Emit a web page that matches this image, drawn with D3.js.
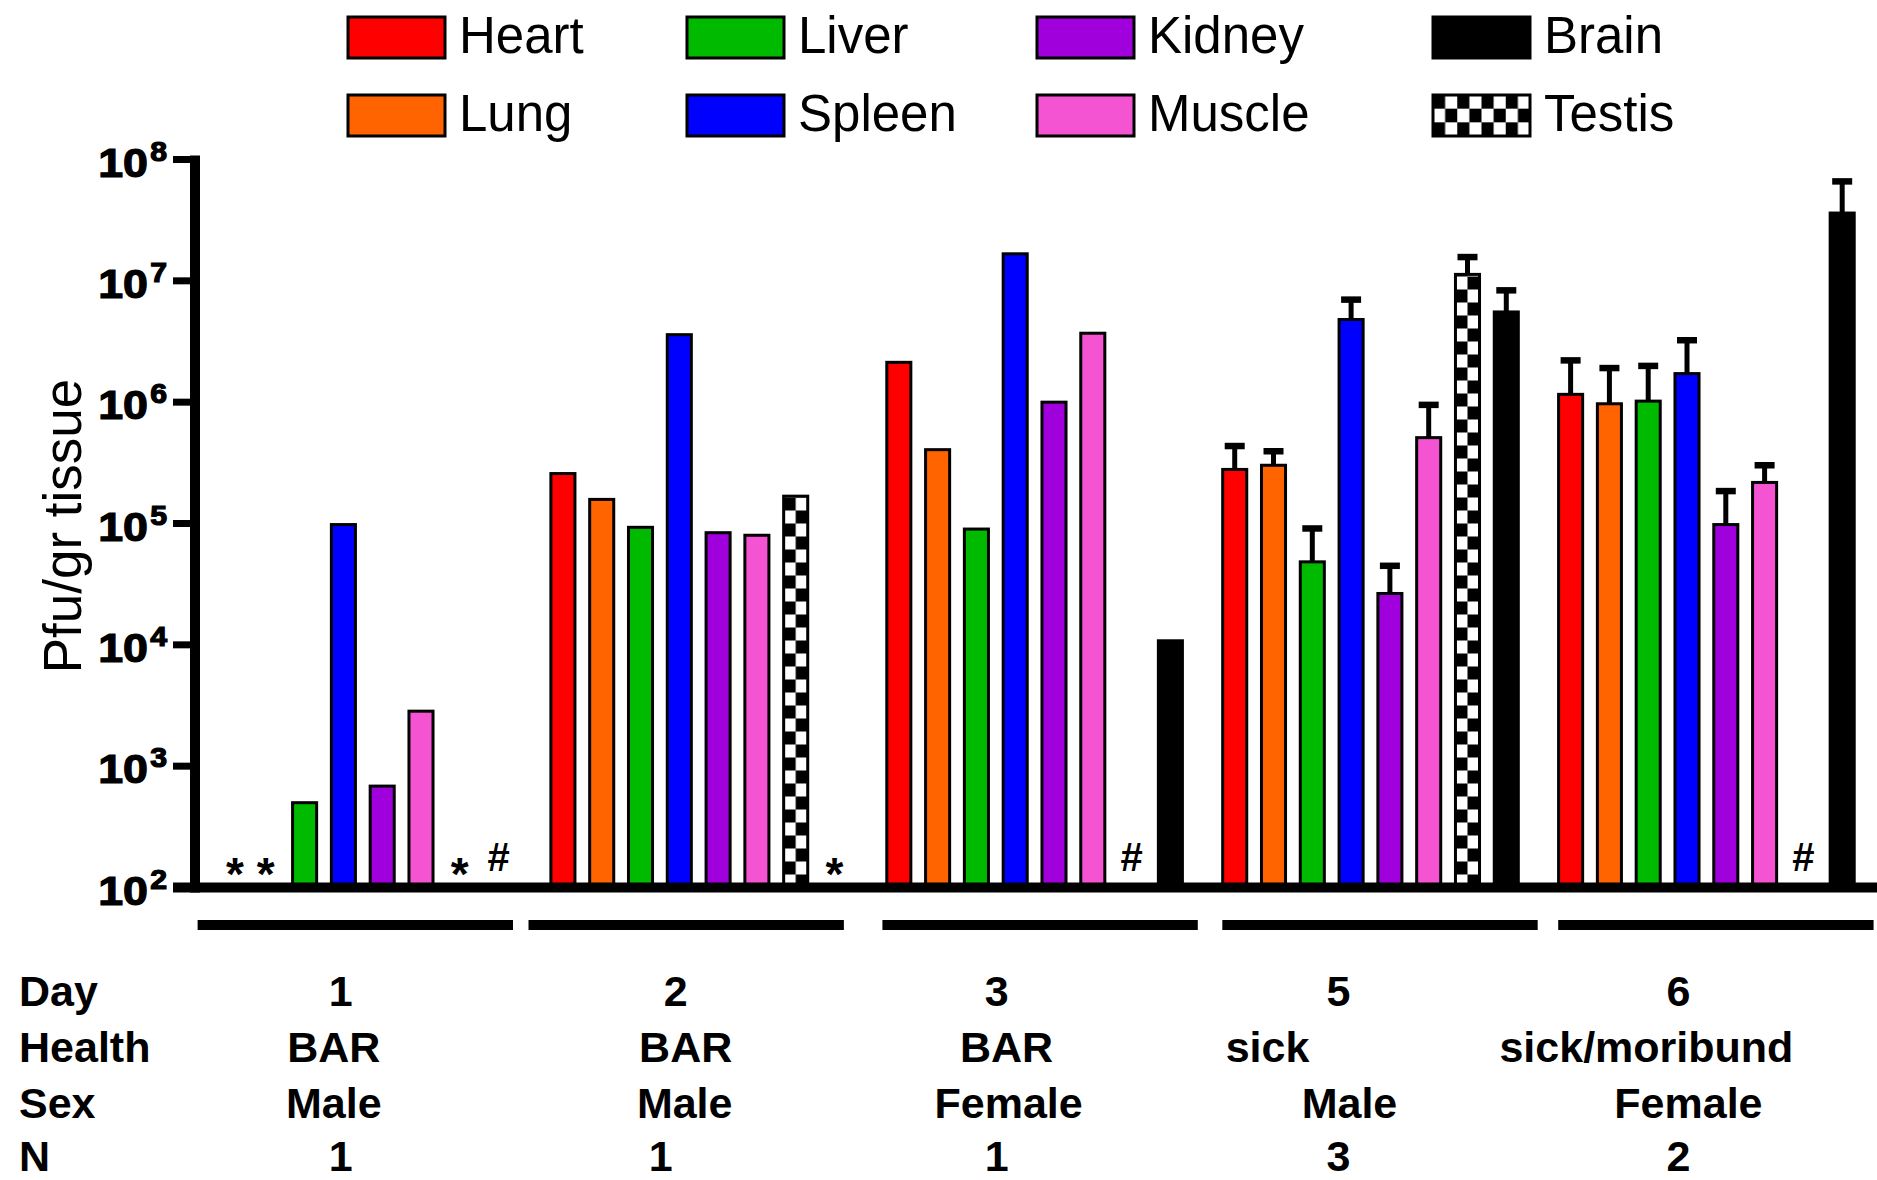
<!DOCTYPE html>
<html>
<head>
<meta charset="utf-8">
<script src="https://cdn.jsdelivr.net/npm/d3@7"></script>
<style>
  body { margin: 0; background: #fff; }
  svg { display: block; font-family: "Liberation Sans", Arial, sans-serif; }
</style>
</head>
<body>
<div id="chart"></div>
<script>
"use strict";

// == data ==
var days    = ["1", "2", "3", "5", "6"];
var health  = ["BAR", "BAR", "BAR", "sick", "sick/moribund"];
var sex     = ["Male", "Male", "Female", "Male", "Female"];
var nMice   = ["1", "1", "1", "3", "2"];
var organs  = ["Heart", "Lung", "Liver", "Spleen", "Kidney", "Muscle", "Testis", "Brain"];

// Pfu/gr tissue per day (null = no bar)
var heart  = [null, 2.58e5, 2.13e6, 2.79e5, 1.16e6];
var lung   = [null, 1.58e5, 4.06e5, 3.02e5, 9.7e5];
var liver  = [500, 9.3e4, 9.0e4, 4.83e4, 1.02e6];
var spleen = [9.8e4, 3.6e6, 1.67e7, 4.8e6, 1.72e6];
var kidney = [685, 8.4e4, 1.0e6, 2.65e4, 9.8e4];
var muscle = [2840, 8.0e4, 3.7e6, 5.1e5, 2.18e5];
var testis = [null, 1.68e5, null, 1.13e7, null];
var brain  = [null, null, 1.08e4, 5.54e6, 3.62e7];

// top of the error bar (mean + SEM), only days 5 and 6
var heartErr  = [null, null, null, 4.35e5, 2.21e6];
var lungErr   = [null, null, null, 3.94e5, 1.91e6];
var liverErr  = [null, null, null, 9.1e4, 1.99e6];
var spleenErr = [null, null, null, 7.0e6, 3.24e6];
var kidneyErr = [null, null, null, 4.48e4, 1.85e5];
var muscleErr = [null, null, null, 9.5e5, 3.02e5];
var testisErr = [null, null, null, 1.57e7, null];
var brainErr  = [null, null, null, 8.35e6, 6.6e7];

// symbols drawn instead of a bar: [day index, organ, symbol]
var notes = [[0, "Heart", "*"], [0, "Lung", "*"], [0, "Testis", "*"], [0, "Brain", "#"],
             [1, "Brain", "*"], [2, "Testis", "#"], [4, "Testis", "#"]];

var yTicks = [2, 3, 4, 5, 6, 7, 8];

var values = [heart, lung, liver, spleen, kidney, muscle, testis, brain];
var errors = [heartErr, lungErr, liverErr, spleenErr, kidneyErr, muscleErr, testisErr, brainErr];

var colors = {
  Heart: "#ff0000", Lung: "#ff6400", Liver: "#00ba00", Spleen: "#0000ff",
  Kidney: "#a000dc", Muscle: "#f453d2", Testis: "checker", Brain: "#000000"
};
var legendCols = [["Heart", "Lung"], ["Liver", "Spleen"], ["Kidney", "Muscle"], ["Brain", "Testis"]];

// == layout ==
var width = 1877, height = 1180;
var axisY = 887.5, axisX = 195;

var svg = d3.select("#chart").append("svg")
    .attr("width", width)
    .attr("height", height);
var defs = svg.append("defs");

var x0 = d3.scaleBand()
    .domain(d3.range(days.length))
    .range([194.85, 1874.35])
    .paddingInner(0.076)
    .paddingOuter(0.038);

var x1 = d3.scaleBand()
    .domain(organs)
    .range([0, x0.bandwidth()])
    .paddingInner(0.38)
    .paddingOuter(0.19);

var y = d3.scaleLog()
    .domain([1e2, 1e8])
    .range([axisY, 159.5]);

function checker(id, px, py, cw, ch) {
  var p = defs.append("pattern")
      .attr("id", id)
      .attr("patternUnits", "userSpaceOnUse")
      .attr("x", px).attr("y", py)
      .attr("width", cw * 2).attr("height", ch * 2);
  p.append("rect").attr("width", cw * 2).attr("height", ch * 2).attr("fill", "#fff");
  p.append("rect").attr("width", cw).attr("height", ch).attr("fill", "#000");
  p.append("rect").attr("x", cw).attr("y", ch).attr("width", cw).attr("height", ch).attr("fill", "#000");
}

// build flat bar list
var bars = [];
organs.forEach(function (o, oi) {
  values[oi].forEach(function (v, di) {
    if (v != null) bars.push({ organ: o, day: di, value: v, err: errors[oi][di] });
  });
});

var gBars = svg.append("g");
gBars.selectAll("rect")
  .data(bars)
  .enter().append("rect")
    .attr("x", function (d) { return x0(d.day) + x1(d.organ); })
    .attr("y", function (d) { return y(d.value); })
    .attr("width", x1.bandwidth())
    .attr("height", function (d) { return axisY - y(d.value); })
    .attr("stroke", "#000")
    .attr("stroke-width", 3)
    .attr("fill", function (d, i) {
      if (d.organ !== "Testis") return colors[d.organ];
      var id = "chk" + i;
      checker(id, x0(d.day) + x1(d.organ), axisY, x1.bandwidth() / 2, 13);
      return "url(#" + id + ")";
    });

// error bars (upper only)
var withErr = bars.filter(function (d) { return d.err != null; });
var gErr = svg.append("g").attr("stroke", "#000");
withErr.forEach(function (d) {
  var cx = x0(d.day) + x1(d.organ) + x1.bandwidth() / 2;
  gErr.append("line")
      .attr("x1", cx).attr("x2", cx)
      .attr("y1", y(d.value)).attr("y2", y(d.err))
      .attr("stroke-width", 5);
  gErr.append("line")
      .attr("x1", cx - 10).attr("x2", cx + 10)
      .attr("y1", y(d.err)).attr("y2", y(d.err))
      .attr("stroke-width", 6.5);
});

// * and # markers
svg.append("g").selectAll("text")
  .data(notes)
  .enter().append("text")
    .attr("x", function (d) { return x0(d[0]) + x1(d[1]) + x1.bandwidth() / 2 + (d[1] === "Heart" ? 8 : 0); })
    .attr("y", function (d) { return d[2] === "*" ? axisY + 2 : axisY - 17; })
    .attr("text-anchor", "middle")
    .attr("font-size", d => d[2] === "*" ? 46 : 40)
    .attr("font-weight", "bold")
    .text(function (d) { return d[2]; });

// axes
var gAxis = svg.append("g");
gAxis.append("line")
    .attr("x1", axisX).attr("x2", axisX)
    .attr("y1", y(1e8) - 4).attr("y2", axisY + 5)
    .attr("stroke", "#000").attr("stroke-width", 10);
gAxis.append("line")
    .attr("x1", 173).attr("x2", width)
    .attr("y1", axisY).attr("y2", axisY)
    .attr("stroke", "#000").attr("stroke-width", 10);

var ticks = gAxis.selectAll(".tick")
  .data(yTicks)
  .enter().append("g")
    .attr("class", "tick")
    .attr("transform", function (d) { return "translate(0," + y(Math.pow(10, d)) + ")"; });
ticks.append("line")
    .attr("x1", 173).attr("x2", axisX)
    .attr("stroke", "#000").attr("stroke-width", 7);
var tl = ticks.append("text")
    .attr("transform", "translate(167,0) scale(1.12,1)")
    .attr("text-anchor", "end")
    .attr("font-weight", "bold")
    .attr("stroke", "#000")
    .attr("stroke-width", 1.2);
tl.append("tspan").attr("y", 17).attr("font-size", 40).text("10");
tl.append("tspan").attr("dy", -16).attr("dx", 2).attr("font-size", 27).text(function (d) { return d; });

svg.append("text")
    .attr("transform", "translate(81,526) rotate(-90)")
    .attr("text-anchor", "middle")
    .attr("font-size", 53)
    .text("Pfu/gr tissue");

// group underlines (hand-placed in the original, slightly off the groups)
var lineShift = [-10, -15, 3, 7, 7];
svg.append("g").selectAll("line")
  .data(days)
  .enter().append("line")
    .attr("x1", function (d, i) { return x0(i) + lineShift[i]; })
    .attr("x2", function (d, i) { return x0(i) + lineShift[i] + x0.bandwidth() + 5; })
    .attr("y1", 925).attr("y2", 925)
    .attr("stroke", "#000").attr("stroke-width", 10);

// table under the chart
var rows = [
  { label: "Day",    cells: days,   y: 1006, shift: [-22, -23, -38, -32, -28] },
  { label: "Health", cells: health, y: 1062, shift: [-29, -13, -28, -103, -60] },
  { label: "Sex",    cells: sex,    y: 1118, shift: [-29, -14, -26, -21, -18] },
  { label: "N",      cells: nMice,  y: 1171, shift: [-22, -38, -38, -32, -28] }
];
var gTab = svg.append("g").attr("font-weight", "bold").attr("font-size", 43);
rows.forEach(function (r) {
  gTab.append("text").attr("x", 19).attr("y", r.y).text(r.label);
  r.cells.forEach(function (c, i) {
    gTab.append("text")
        .attr("x", x0(i) + x0.bandwidth() / 2 + r.shift[i])
        .attr("y", r.y)
        .attr("text-anchor", "middle")
        .text(c);
  });
});

// legend
var legX = [348, 687, 1037, 1433], legY = [17, 95], boxW = 97, boxH = 41;
var gLeg = svg.append("g");
legendCols.forEach(function (col, ci) {
  col.forEach(function (o, ri) {
    var bx = legX[ci], by = legY[ri];
    var fill = colors[o];
    if (fill === "checker") {
      checker("chkLeg", bx, by, boxW / 8, boxH / 3);
      fill = "url(#chkLeg)";
    }
    gLeg.append("rect")
        .attr("x", bx).attr("y", by)
        .attr("width", boxW).attr("height", boxH)
        .attr("fill", fill)
        .attr("stroke", "#000").attr("stroke-width", 3);
    gLeg.append("text")
        .attr("x", bx + 111).attr("y", by + 36)
        .attr("font-size", 51)
        .text(o);
  });
});
</script>
</body>
</html>
